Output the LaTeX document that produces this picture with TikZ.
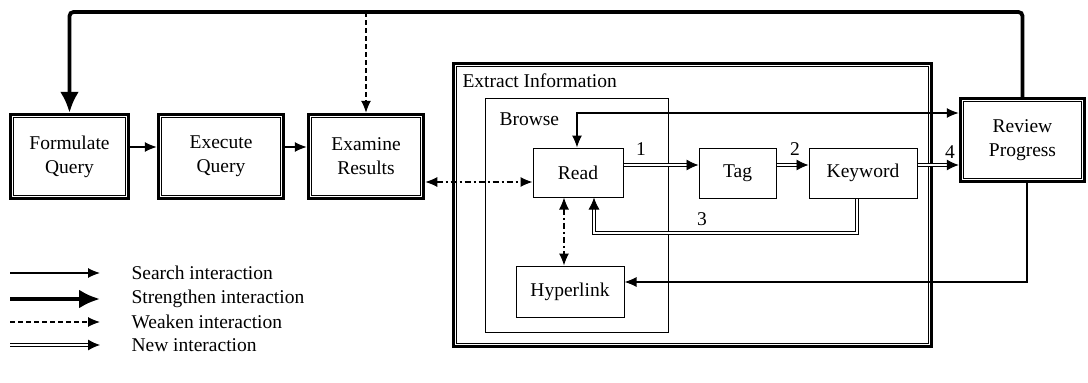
\documentclass[tikz,border=0pt]{standalone}
\usepackage{fontspec}
\setmainfont{Liberation Serif}
\usetikzlibrary{arrows.meta,calc}
\begin{document}
\begin{tikzpicture}[x=1pt,y=-1pt,
  every node/.style={font=\fontsize{19.5}{24}\selectfont},
  mainbox/.style={draw, line width=3.5pt, align=center, inner sep=0pt},
  subbox/.style={draw, line width=1pt, inner sep=0pt},
  search/.style={line width=1.1pt, -{Latex[length=12pt,width=10pt]}},
  searchboth/.style={line width=1.1pt, {Latex[length=12pt,width=10pt]}-{Latex[length=12pt,width=10pt]}},
  strong/.style={line width=3.8pt, -{Latex[length=21pt,width=19pt]}},
  weak/.style={line width=1.1pt, dash pattern=on 5pt off 3pt, -{Latex[length=12pt,width=10pt]}},
  weakboth/.style={line width=1.1pt, dash pattern=on 6pt off 3pt on 2pt off 3pt, {Latex[length=12pt,width=10pt]}-{Latex[length=12pt,width=10pt]}},
  newint/.style={line width=0.9pt, double=white, double distance=1.8pt, -{Latex[length=12pt,width=11pt]}},
  lbl/.style={anchor=base},
]
\useasboundingbox (0,0) rectangle (1088,383);
% main boxes
\node[mainbox, minimum width=118pt, minimum height=84pt] (fq) at (69.5,156.5) {Formulate\\Query};
\node[mainbox, minimum width=125pt, minimum height=84pt] (eq) at (221,156.5) {Execute\\Query};
\node[mainbox, minimum width=115pt, minimum height=84pt] (er) at (366,156.5) {Examine\\Results};
\node[mainbox, minimum width=124pt, minimum height=83pt] (rp) at (1022.5,140) {Review\\Progress};
% extract information and browse
\node[draw, line width=3.5pt, minimum width=478pt, minimum height=283pt, inner sep=0pt] (ext) at (692.5,205) {};
\node[subbox, minimum width=183pt, minimum height=234pt] (browse) at (576.5,215) {};
\foreach \n in {fq,eq,er,rp,ext}
  \draw[line width=0.9pt] ($(\n.north west)+(5,5)$) rectangle ($(\n.south east)+(-5,-5)$);
\node[anchor=base west] (extlbl) at (459,87) {Extract Information};
\node[anchor=base west] (browselbl) at (496,125) {Browse};
% inner boxes
\node[subbox, minimum width=90pt, minimum height=49pt] (read) at (578,172.5) {Read};
\node[subbox, minimum width=77pt, minimum height=50pt] (tag) at (737.5,173) {Tag};
\node[subbox, minimum width=108pt, minimum height=50pt] (kw) at (863,173) {Keyword};
\node[subbox, minimum width=108pt, minimum height=51pt] (hl) at (570,291.5) {Hyperlink};
% helper coordinates
\coordinate (top) at (0,12);
\coordinate (r147) at (0,147);
\coordinate (r165) at (0,165);
\coordinate (r182) at (0,182);
\coordinate (k3a) at (857,233);
\coordinate (k3b) at (594,233);
\coordinate (rr) at (577,113);
\coordinate (hx) at (564,0);
\coordinate (rh) at (1027,282);
% connectors
\draw[search] (fq.east |- r147) -- (eq.west |- r147);
\draw[search] (eq.east |- r147) -- (er.west |- r147);
\draw[strong, rounded corners=4pt] (rp.north) -- (rp.north |- top) -- (fq.north |- top) -- (fq.north);
\draw[weak] (er.north |- top) -- (er.north);
\draw[weakboth] (er.east |- r182) -- (read.west |- r182);
\draw[newint] (read.east |- r165) -- (tag.west |- r165);
\draw[newint] (tag.east |- r165) -- (kw.west |- r165);
\draw[newint] (kw.east |- r165) -- (rp.west |- r165);
\draw[newint] (kw.south -| k3a) -- (k3a) -- (k3b) -- (read.south -| k3b);
\draw[searchboth] (read.north -| rr) -- (rr) -- (rp.west |- rr);
\draw[weakboth] (read.south -| hx) -- (hl.north -| hx);
\draw[search] (rp.south -| rh) -- (rh) -- (hl.east |- rh);
% numbers
\node[lbl] (n1) at (641,155) {1};
\node[lbl] (n2) at (795,155) {2};
\node[lbl] (n3) at (702,225) {3};
\node[lbl] (n4) at (950,158) {4};
% legend
\coordinate (l1a) at (10,273); \coordinate (l1b) at (100,273);
\coordinate (l2a) at (10,299); \coordinate (l2b) at (100,299);
\coordinate (l3a) at (10,322); \coordinate (l3b) at (100,322);
\coordinate (l4a) at (10,345); \coordinate (l4b) at (100,345);
\draw[search] (l1a) -- (l1b);
\draw[strong] (l2a) -- (l2b);
\draw[weak] (l3a) -- (l3b);
\draw[newint] (l4a) -- (l4b);
\node[anchor=west] (t1) at (128,273) {Search interaction};
\node[anchor=west] (t2) at (128,299) {Strengthen interaction};
\node[anchor=west] (t3) at (128,322) {Weaken interaction};
\node[anchor=west] (t4) at (128,345) {New interaction};
\end{tikzpicture}
\end{document}
